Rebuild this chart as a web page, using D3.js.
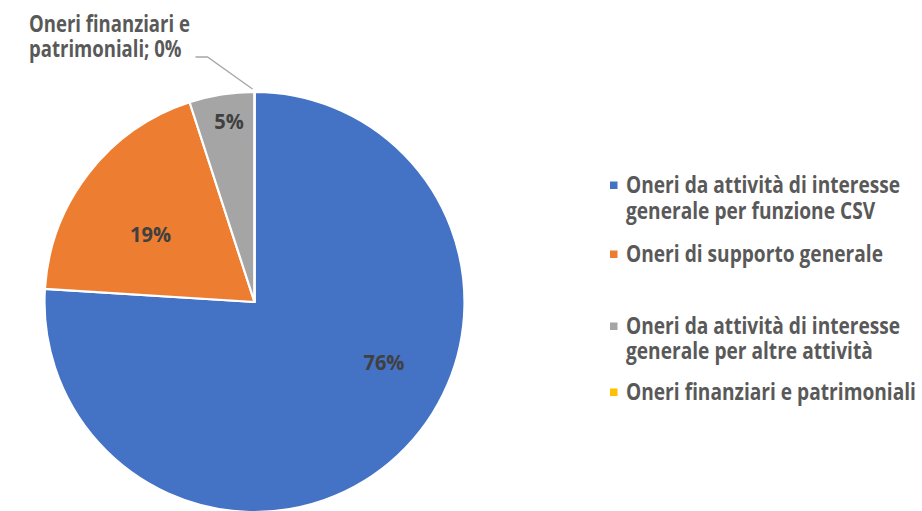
<!DOCTYPE html>
<html><head><meta charset="utf-8">
<script src="https://cdn.jsdelivr.net/npm/d3@7"></script>
<style>
html,body{margin:0;padding:0;background:#fff;}
svg{display:block;font-family:'Open Sans','Noto Sans',sans-serif;}
</style></head><body>
<svg id="chart" width="922" height="511"></svg>
<script>
// ---- data ----
const categories = [
  "Oneri da attività di interesse generale per funzione CSV",
  "Oneri di supporto generale",
  "Oneri da attività di interesse generale per altre attività",
  "Oneri finanziari e patrimoniali"
];
const values = [76, 19, 5, 0];
const legendLines = [
  ["Oneri da attività di interesse", "generale per funzione CSV"],
  ["Oneri di supporto generale"],
  ["Oneri da attività di interesse", "generale per altre attività"],
  ["Oneri finanziari e patrimoniali"]
];
const outsideLabelLines = ["Oneri finanziari e", "patrimoniali; 0%"];

// ---- style ----
const colors = ["#4472C4", "#ED7D31", "#A5A5A5", "#FFC000"];
const cx = 254.5, cy = 302, R = 210;
// label placement (angle in degrees clockwise from top, radius fraction)
const labelPolar = [[115, 0.68], [303, 0.59], [352, 0.87]];
const legendX = 610, legendTextX = 626;
const legendBaselines = [[193, 219], [262], [334, 359], [400]];

const svg = d3.select("#chart");
const pie = d3.pie().sort(null).value(d => d)(values);
const arc = d3.arc().innerRadius(0).outerRadius(R);

function measure(t, size) {
  const el = svg.append("text").attr("font-size", size).attr("font-weight", 700).text(t);
  const w = el.node().getComputedTextLength();
  el.remove();
  return w;
}
function addText(parent, x, y, t, opts) {
  return parent.append("text")
    .attr("transform", `translate(${x},${y}) scale(${opts.k},1)`)
    .attr("text-anchor", opts.anchor || "start")
    .attr("dy", opts.dy || null)
    .attr("font-size", opts.size)
    .attr("font-weight", 700)
    .attr("fill", opts.fill)
    .text(t);
}

const g = svg.append("g").attr("transform", `translate(${cx},${cy})`);
g.selectAll("path").data(pie).join("path")
  .attr("d", arc)
  .attr("fill", (d, i) => colors[i])
  .attr("stroke", "#fff")
  .attr("stroke-width", 2.2)
  .attr("stroke-linejoin", "round");

// in-slice labels
const pctSize = 22;
const kPct = 41 / measure("19%", pctSize);
pie.forEach((d, i) => {
  if (values[i] === 0) return;
  const [deg, f] = labelPolar[i];
  const a = deg * Math.PI / 180;
  addText(g, Math.sin(a) * R * f, -Math.cos(a) * R * f,
    d3.format(".0%")(values[i] / d3.sum(values)),
    {k: kPct, anchor: "middle", dy: "0.36em", size: pctSize, fill: "#404040"});
});

// outside label for zero slice with leader line
const zero = pie[3];
const edgeA = zero.startAngle;
const ex = Math.sin(edgeA) * R, ey = -Math.cos(edgeA) * R;
g.append("polyline")
  .attr("points", [[ex - 2, ey - 3], [-47, -245], [-59, -245]].map(p => p.join(",")).join(" "))
  .attr("fill", "none")
  .attr("stroke", "#A6A6A6")
  .attr("stroke-width", 1.3);
const outSize = 23;
const kOut = 161 / measure(outsideLabelLines[0], outSize);
outsideLabelLines.forEach((t, k) => {
  addText(svg, 29, 32 + k * 25, t, {k: kOut, size: outSize, fill: "#595959"});
});

// legend
const legSize = 23;
const kLeg = 290 / measure(legendLines[3][0], legSize);
const lg = svg.append("g");
legendLines.forEach((lines, i) => {
  lg.append("rect")
    .attr("x", legendX).attr("y", legendBaselines[i][0] - 11.5)
    .attr("width", 7.5).attr("height", 7.5)
    .attr("fill", colors[i]);
  lines.forEach((t, k) => {
    addText(lg, legendTextX, legendBaselines[i][k], t, {k: kLeg, size: legSize, fill: "#595959"});
  });
});
</script>
</body></html>
